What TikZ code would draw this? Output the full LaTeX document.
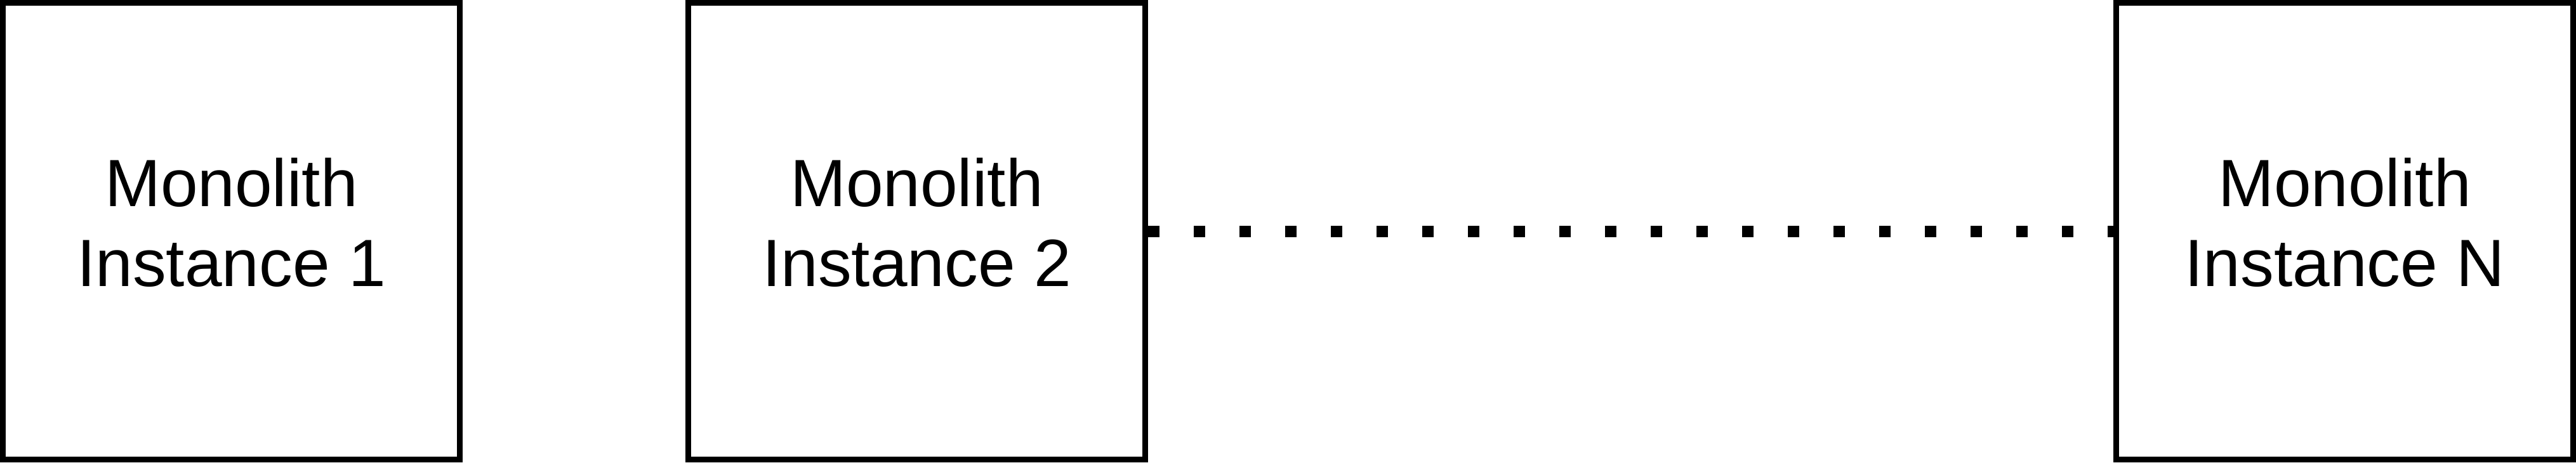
\documentclass[tikz,border=0pt]{standalone}
\usepackage{fontspec}
\setmainfont{Liberation Sans}
\usetikzlibrary{positioning}

\tikzset{
  instbox/.style={draw, line width=0.09cm, minimum width=7.2cm, minimum height=7.2cm,
                  align=center, text depth=0.28cm, font=\fontsize{30}{36}\selectfont},
  dotlink/.style={line width=0.18cm, dash pattern=on 0.18cm off 0.54cm}
}

\begin{document}
\begin{tikzpicture}
\useasboundingbox (0,0) rectangle (40.59,7.29);
% Instances of the monolith
\node[instbox] (inst1) at (3.645,3.645) {Monolith\\Instance 1};
\node[instbox] (inst2) at (14.445,3.645) {Monolith\\Instance 2};
\node[instbox] (instN) at (36.945,3.645) {Monolith\\Instance N};
% further instances left out
\draw[dotlink] (inst2.east) -- (instN.west);
\end{tikzpicture}
\end{document}
